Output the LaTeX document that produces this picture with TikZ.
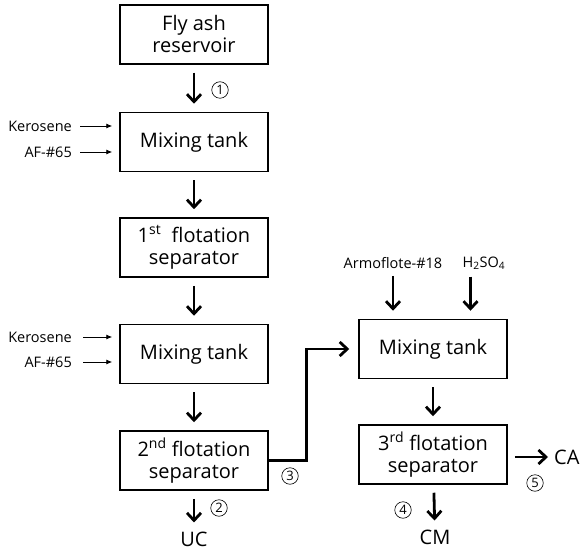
\documentclass[tikz,border=0pt]{standalone}
\usepackage{fontspec}
\setmainfont{Open Sans}
\usepackage{tikz}
\usetikzlibrary{arrows.meta,positioning,calc}

\begin{document}
\begin{tikzpicture}[x=1pt, y=-1pt,
    box/.style={draw, line width=1.5pt, minimum width=148pt, minimum height=59pt, align=center, inner sep=2pt, font=\fontsize{20}{22}\selectfont},
    flow/.style={-{Straight Barb[length=7.5pt, width=14pt]}, line width=2.8pt, shorten <=8pt, shorten >=8pt},
    feed/.style={-{Latex[length=6pt, width=5pt]}, line width=0.9pt, shorten <=7pt, shorten >=7pt},
    lbl/.style={font=\fontsize{14.5}{16}\selectfont, inner sep=1pt},
    num/.style={circle, draw, line width=0.6pt, minimum size=16.5pt, inner sep=0pt, font=\fontsize{13}{13}\selectfont},
    prod/.style={font=\fontsize{20}{20}\selectfont, inner sep=1pt}
  ]
    \useasboundingbox (0,0) rectangle (586,553);

    % Left column: first and second flotation
    \node[box] (res) at (194, 34.5) {Fly ash\\reservoir};
    \node[box, below=47pt of res] (mix1) {Mixing tank};
    \node[box, below=45pt of mix1] (flo1) {1\textsuperscript{st}\ \ flotation\\separator};
    \node[box, below=46pt of flo1] (mix2) {Mixing tank};
    \node[box, below=46pt of mix2] (flo2) {2\textsuperscript{nd} flotation\\separator};
    \node[prod] (uc) at (194, 539) {UC};

    % Reagents for the left mixing tanks
    \node[lbl, anchor=east] (ker1) at (73, 126) {Kerosene};
    \node[lbl, anchor=east] (af1) at (73, 152) {AF-\#65};
    \node[lbl, anchor=east] (ker2) at (73, 337) {Kerosene};
    \node[lbl, anchor=east] (af2) at (73, 362) {AF-\#65};

    % Right column: third flotation
    \node[box] (mix3) at (433, 349) {Mixing tank};
    \node[box, below=45pt of mix3] (flo3) {3\textsuperscript{rd} flotation\\separator};
    \node[prod] (cm) at (435, 537) {CM};
    \node[prod, anchor=west] (ca) at (553, 457) {CA};
    \node[lbl] (arm) at (393, 263) {Armoflote-\#18};
    \node[lbl] (acid) at (484, 263) {H\textsubscript{2}SO\textsubscript{4}};

    % Stream numbers
    \node[num] (n1) at (220, 90) {1};
    \node[num] (n2) at (219, 508) {2};
    \node[num] (n3) at (290, 476) {3};
    \node[num] (n4) at (403, 510) {4};
    \node[num] (n5) at (535, 483) {5};

    % Connectors
    \draw[flow] (res) -- (mix1);
    \draw[flow] (mix1) -- (flo1);
    \draw[flow] (flo1) -- (mix2);
    \draw[flow] (mix2) -- (flo2);
    \draw[flow] (flo2) -- (uc);
    \draw[flow, shorten <=0pt, shorten >=9pt] (flo2.east) -- ++(38, 0) |- (mix3.west);
    \draw[flow] (mix3) -- (flo3);
    \draw[flow] (flo3) -- (cm);
    \draw[flow, shorten <=7pt, shorten >=5pt] (flo3.east |- ca) -- (ca.west);
    \draw[flow, shorten <=6pt] (arm) -- (arm |- mix3.north);
    \draw[flow, shorten <=6pt] ([xshift=9pt]acid.south west) -- ([xshift=9pt]acid.south west |- mix3.north);
    \draw[feed] (ker1.east) -- (ker1 -| mix1.west);
    \draw[feed] (af1.east) -- (af1 -| mix1.west);
    \draw[feed, shorten <=10pt] (ker2.east) -- (ker2 -| mix2.west);
    \draw[feed, shorten <=10pt] (af2.east) -- (af2 -| mix2.west);

  \end{tikzpicture}
\end{document}
